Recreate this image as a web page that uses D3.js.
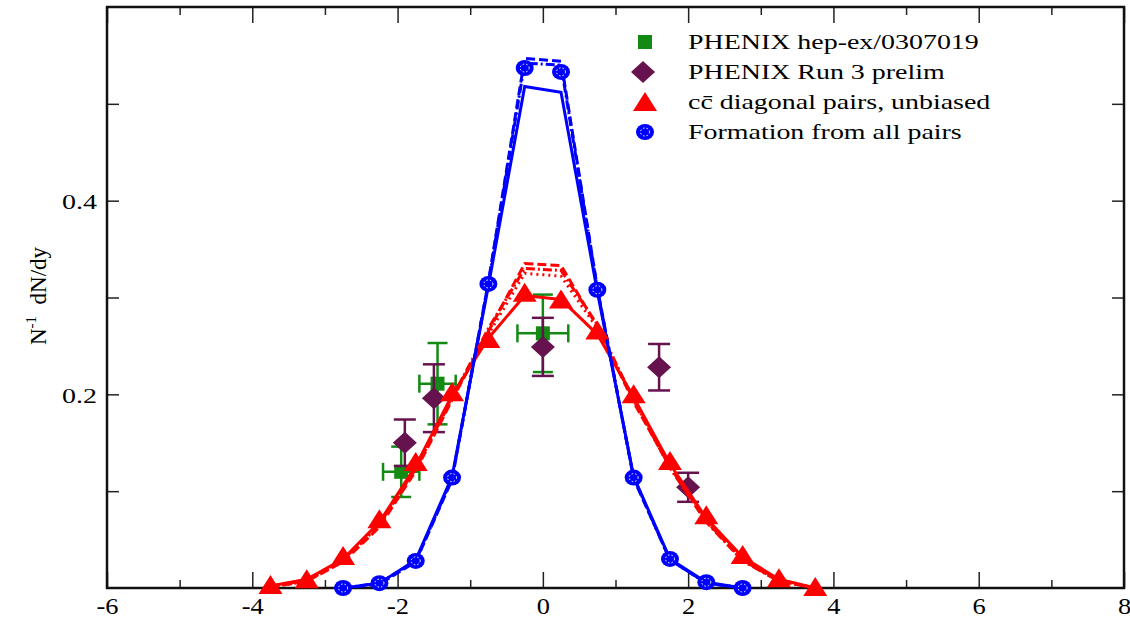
<!DOCTYPE html>
<html>
<head>
<meta charset="utf-8">
<script src="https://cdn.jsdelivr.net/npm/d3@7"></script>
<style>
  body { margin: 0; background: #fff; }
  svg { display: block; }
  text { font-family: "Liberation Serif", "DejaVu Serif", serif; fill: #000; }
</style>
</head>
<body>
<div id="chart"></div>
<script>
// rapidity grid of the model curves
const yRed = [-3.75, -3.25, -2.75, -2.25, -1.75, -1.25, -0.75, -0.25, 0.25, 0.75, 1.25, 1.75, 2.25, 2.75, 3.25, 3.75];
const yBlue = [-2.75, -2.25, -1.75, -1.25, -0.75, -0.25, 0.25, 0.75, 1.25, 1.75, 2.25, 2.75];

// c cbar diagonal pairs (markers + variants)
const redTri = [0.002, 0.008, 0.032, 0.070, 0.129, 0.201, 0.256, 0.304, 0.297, 0.265, 0.199, 0.130, 0.074, 0.033, 0.009, 0.000];
const redSolid = [0.002, 0.009, 0.030, 0.068, 0.126, 0.199, 0.258, 0.302, 0.298, 0.262, 0.197, 0.128, 0.072, 0.032, 0.009, 0.000];
const redDash = [0.001, 0.007, 0.027, 0.063, 0.121, 0.194, 0.265, 0.335, 0.333, 0.270, 0.192, 0.125, 0.069, 0.029, 0.007, 0.000];
const redDot = [0.001, 0.007, 0.028, 0.065, 0.124, 0.197, 0.262, 0.325, 0.322, 0.268, 0.195, 0.127, 0.070, 0.030, 0.008, 0.000];
const redDashDot = [0.002, 0.008, 0.029, 0.066, 0.123, 0.196, 0.268, 0.330, 0.328, 0.272, 0.194, 0.124, 0.068, 0.028, 0.007, 0.000];

// formation from all pairs
const blueCirc = [0.000, 0.005, 0.028, 0.114, 0.314, 0.537, 0.533, 0.308, 0.114, 0.030, 0.006, 0.000];
const blueSolid = [0.000, 0.005, 0.029, 0.115, 0.312, 0.518, 0.512, 0.306, 0.115, 0.030, 0.006, 0.000];
const blueDash = [0.000, 0.004, 0.027, 0.112, 0.316, 0.547, 0.544, 0.310, 0.113, 0.029, 0.005, 0.000];
const blueDashDot = [0.000, 0.005, 0.028, 0.113, 0.315, 0.542, 0.540, 0.309, 0.114, 0.029, 0.005, 0.000];

// PHENIX data
const greenX = [-1.95, -1.45, 0.0];
const greenY = [0.120, 0.211, 0.263];
const greenErrY = [0.026, 0.042, 0.040];
const greenErrX = [0.25, 0.25, 0.35];

const purpleX = [-1.9, -1.5, 0.0, 1.6, 2.0];
const purpleY = [0.150, 0.196, 0.249, 0.228, 0.104];
const purpleErr = [0.024, 0.035, 0.030, 0.024, 0.015];

const xMajor = [-6, -4, -2, 0, 2, 4, 6, 8];
const xMinor = [-5, -3, -1, 1, 3, 5, 7];
const yMajor = [0.2, 0.4];
const yMinor = [0.1, 0.3, 0.5];

const legendLabels = ["PHENIX hep-ex/0307019", "PHENIX Run 3 prelim", "c\u0304 diagonal pairs, unbiased", "Formation from all pairs"];

const W = 1130, H = 621;
const frame = {left: 107, right: 1124, top: 7, bottom: 588};
const stretch = 1.27;

const svg = d3.select('#chart').append('svg').attr('width', W).attr('height', H);

const x = d3.scaleLinear().domain([-6, 8]).range([frame.left, frame.right]);
const y = d3.scaleLinear().domain([0, 0.6]).range([frame.bottom, frame.top]);

// axes, ticks pointing inward
function ticks(axis, vals, size, labelled) {
    return axis.tickValues(vals).tickSize(size).tickSizeOuter(0).tickFormat(labelled ? d => String(d) : '');
}

const botAx = svg.append('g').attr('transform', 'translate(0,' + frame.bottom + ')');
botAx.append('g').call(ticks(d3.axisBottom(x), xMajor, -16, true));
botAx.append('g').call(ticks(d3.axisBottom(x), xMinor, -8, false));

const topAx = svg.append('g').attr('transform', 'translate(0,' + frame.top + ')');
topAx.append('g').call(ticks(d3.axisTop(x), xMajor, -16, false));
topAx.append('g').call(ticks(d3.axisTop(x), xMinor, -8, false));

const leftAx = svg.append('g').attr('transform', 'translate(' + frame.left + ',0)');
leftAx.append('g').call(ticks(d3.axisLeft(y), yMajor, -12, true));
leftAx.append('g').call(ticks(d3.axisLeft(y), yMinor, -12, false));

const rightAx = svg.append('g').attr('transform', 'translate(' + frame.right + ',0)');
rightAx.append('g').call(ticks(d3.axisRight(y), yMajor, -12, false));
rightAx.append('g').call(ticks(d3.axisRight(y), yMinor, -12, false));

svg.selectAll('.domain').remove();
svg.selectAll('.tick line').attr('stroke', '#222').attr('stroke-width', 1.5);
svg.selectAll('.tick text')
    .style('font-family', '"Liberation Serif", serif')
    .attr('fill', '#000');
botAx.selectAll('.tick text').style('font-size', '23px')
    .attr('dy', 0).attr('y', 26).attr('transform', 'scale(1.15,1)');
leftAx.selectAll('.tick text').style('font-size', '22px')
    .attr('dy', '0.35em').attr('x', -8).attr('transform', 'scale(' + stretch + ',1)');

svg.append('rect')
    .attr('x', frame.left).attr('y', frame.top)
    .attr('width', frame.right - frame.left).attr('height', frame.bottom - frame.top)
    .attr('fill', 'none').attr('stroke', '#111').attr('stroke-width', 2.5);

// y axis title
const ttl = svg.append('text')
    .attr('transform', 'translate(46,296) rotate(-90)')
    .attr('text-anchor', 'middle')
    .style('font-size', '23px');
ttl.append('tspan').text('N');
ttl.append('tspan').attr('dy', -10).style('font-size', '15px').text('-1');
ttl.append('tspan').attr('dy', 10).text('\u00a0 dN/dy');

const plot = svg.append('g');

// error bars: PHENIX hep-ex/0307019 (green)
const green = '#138a13', purple = '#66124f';
const g1 = plot.append('g').attr('stroke', green).attr('stroke-width', 2.5);
greenX.forEach((gx, i) => {
    const cx = x(gx), y0 = y(greenY[i] - greenErrY[i]), y1 = y(greenY[i] + greenErrY[i]);
    const x0 = x(gx - greenErrX[i]), x1 = x(gx + greenErrX[i]);
    g1.append('line').attr('x1', cx).attr('x2', cx).attr('y1', y0).attr('y2', y1);
    g1.append('line').attr('x1', cx - 10).attr('x2', cx + 10).attr('y1', y0).attr('y2', y0);
    g1.append('line').attr('x1', cx - 10).attr('x2', cx + 10).attr('y1', y1).attr('y2', y1);
    g1.append('line').attr('x1', x0).attr('x2', x1).attr('y1', y(greenY[i])).attr('y2', y(greenY[i]));
    g1.append('line').attr('x1', x0).attr('x2', x0).attr('y1', y(greenY[i]) - 9).attr('y2', y(greenY[i]) + 9);
    g1.append('line').attr('x1', x1).attr('x2', x1).attr('y1', y(greenY[i]) - 9).attr('y2', y(greenY[i]) + 9);
});
plot.append('g').selectAll('rect').data(greenX).join('rect')
    .attr('x', d => x(d) - 7).attr('y', (d, i) => y(greenY[i]) - 7)
    .attr('width', 14).attr('height', 14).attr('fill', green);

// PHENIX Run 3 prelim (purple)
const g2 = plot.append('g').attr('stroke', purple).attr('stroke-width', 2.5);
purpleX.forEach((px, i) => {
    const cx = x(px), y0 = y(purpleY[i] - purpleErr[i]), y1 = y(purpleY[i] + purpleErr[i]);
    g2.append('line').attr('x1', cx).attr('x2', cx).attr('y1', y0).attr('y2', y1);
    g2.append('line').attr('x1', cx - 11).attr('x2', cx + 11).attr('y1', y0).attr('y2', y0);
    g2.append('line').attr('x1', cx - 11).attr('x2', cx + 11).attr('y1', y1).attr('y2', y1);
});
const diamond = 'M0,-11L12,0L0,11L-12,0Z';
plot.append('g').selectAll('path').data(purpleX).join('path')
    .attr('d', diamond)
    .attr('transform', (d, i) => 'translate(' + x(d) + ',' + y(purpleY[i]) + ')')
    .attr('fill', purple);

// model curves
function curve(xs, vals, color, dash) {
    plot.append('path')
        .datum(vals)
        .attr('d', d3.line().x((d, i) => x(xs[i])).y(d => y(d)))
        .attr('fill', 'none').attr('stroke', color).attr('stroke-width', 3)
        .attr('stroke-dasharray', dash);
}
curve(yRed, redDash, '#ff0000', '9,4');
curve(yRed, redDot, '#ff0000', '2,4');
curve(yRed, redDashDot, '#ff0000', '9,3,2,3');
curve(yRed, redSolid, '#ff0000', null);
curve(yBlue, blueDash, '#0000ff', '9,4');
curve(yBlue, blueDashDot, '#0000ff', '9,3,2,3');
curve(yBlue, blueSolid, '#0000ff', null);

const tri = 'M0,-11L12,8L-12,8Z';
plot.append('g').selectAll('path').data(redTri).join('path')
    .attr('d', tri)
    .attr('transform', (d, i) => 'translate(' + x(yRed[i]) + ',' + y(d) + ')')
    .attr('fill', '#ff0000');

const circ = plot.append('g').selectAll('g').data(blueCirc).join('g')
    .attr('transform', (d, i) => 'translate(' + x(yBlue[i]) + ',' + y(d) + ')');
circ.append('ellipse').attr('rx', 9).attr('ry', 8).attr('fill', '#0000ff');
circ.append('ellipse').attr('rx', 4.5).attr('ry', 4).attr('fill', 'none')
    .attr('stroke', '#fff').attr('stroke-width', 1).attr('stroke-dasharray', '1.5,2');

// legend
const leg = svg.append('g');
const rows = [49, 79, 109, 139];
leg.append('rect').attr('x', 638).attr('y', rows[0] - 14).attr('width', 14).attr('height', 14).attr('fill', green);
leg.append('path').attr('d', diamond).attr('transform', 'translate(643,' + (rows[1] - 7) + ')').attr('fill', purple);
leg.append('path').attr('d', tri).attr('transform', 'translate(645,' + (rows[2] - 6) + ')').attr('fill', '#ff0000');
const lc = leg.append('g').attr('transform', 'translate(645,' + (rows[3] - 7) + ')');
lc.append('ellipse').attr('rx', 9).attr('ry', 8).attr('fill', '#0000ff');
lc.append('ellipse').attr('rx', 4.5).attr('ry', 4).attr('fill', 'none')
    .attr('stroke', '#fff').attr('stroke-width', 1).attr('stroke-dasharray', '1.5,2');

legendLabels.forEach((t, i) => {
    const tx = leg.append('text')
        .attr('transform', 'translate(688,' + rows[i] + ') scale(' + stretch + ',1)')
        .style('font-size', '22px');
    if (i === 2) {
        tx.append('tspan').text('c');
        tx.append('tspan').text(t);
    } else {
        tx.text(t);
    }
});
</script>
</body>
</html>
